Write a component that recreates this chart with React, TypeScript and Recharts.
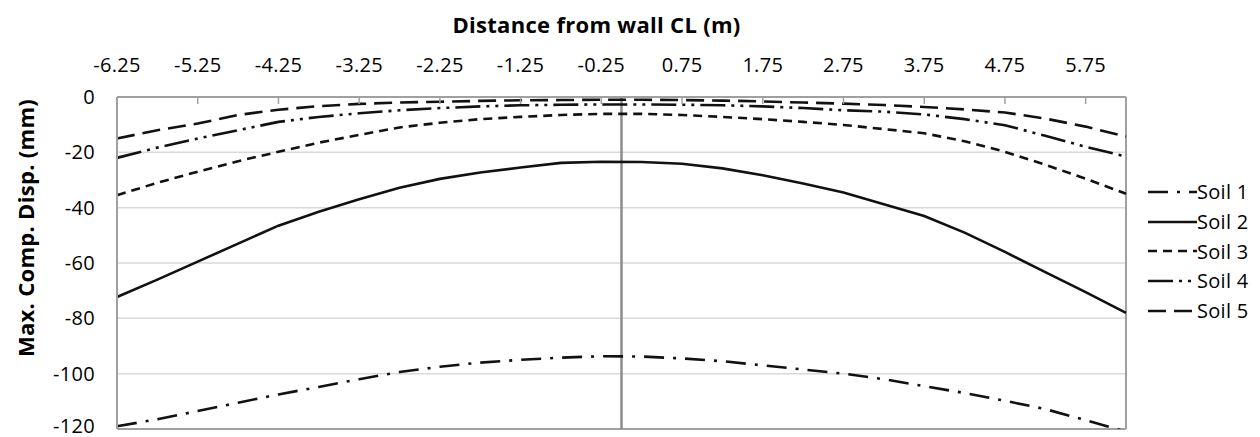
import React from 'react'
import { LineChart, Line, XAxis, YAxis, CartesianGrid, ReferenceLine } from 'recharts'

// distance from wall centre line (m)
const distances = [
  -6.25, -5.75, -5.25, -4.75, -4.25, -3.75, -3.25, -2.75, -2.25, -1.75, -1.25, -0.75, -0.25,
  0.25, 0.75, 1.25, 1.75, 2.25, 2.75, 3.25, 3.75, 4.25, 4.75, 5.25, 5.75, 6.25,
]

// max. comp. displacement (mm) per soil
const soil1 = [
  -119, -116.5, -113.5, -110.5, -107.5, -104.8, -102, -99.4, -97.5, -96, -95, -94.2, -93.7,
  -93.8, -94.5, -95.5, -97, -98.5, -100, -102, -104.5, -107, -109.8, -112.8, -116.8, -121,
]
const soil2 = [
  -72.3, -66, -59.5, -53, -46.5, -41.5, -37, -32.8, -29.6, -27.3, -25.5, -23.8, -23.4,
  -23.5, -24.1, -25.8, -28.3, -31.3, -34.5, -38.8, -43, -49, -56, -63.3, -70.5, -78,
]
const soil3 = [
  -35.5, -31, -27, -23.2, -19.8, -16.5, -13.7, -11, -9.3, -8, -7.2, -6.5, -6.1,
  -6.1, -6.5, -7.2, -8, -9, -10.1, -11.6, -13.1, -16, -19.8, -24.5, -29.5, -35,
]
const soil4 = [
  -22, -18.3, -15, -12, -9, -7.2, -5.9, -4.8, -4, -3.4, -3, -2.8, -2.7,
  -2.7, -2.8, -3, -3.4, -4, -4.8, -5.3, -6.3, -8, -10.2, -14, -18, -21.5,
]
const soil5 = [
  -15, -12, -9.6, -6.5, -4.6, -3.3, -2.5, -2, -1.7, -1.4, -1.2, -1.1, -1,
  -1, -1.1, -1.3, -1.6, -2, -2.4, -2.9, -3.6, -4.5, -5.6, -7.8, -10.7, -14.3,
]

const xTicks = [-6.25, -5.25, -4.25, -3.25, -2.25, -1.25, -0.25, 0.75, 1.75, 2.75, 3.75, 4.75, 5.75]
const yTicks = [0, -20, -40, -60, -80, -100, -120]

const seriesNames = ['Soil 1', 'Soil 2', 'Soil 3', 'Soil 4', 'Soil 5']
const seriesValues = [soil1, soil2, soil3, soil4, soil5]
const dashes = ['20 9 3 9', '0', '9 6', '25 6 3 6 3 6', '18 8']

const data = distances.map((x, i) => {
  const row: Record<string, number> = { x }
  seriesNames.forEach((n, j) => { row[n] = seriesValues[j][i] })
  return row
})

const FONT = '"Open Sans", sans-serif'
const FRAME = '#a0a0a0'
const tickStyle = { fontSize: 20, fill: '#000', fontFamily: FONT, letterSpacing: 0.3 }
const titleStyle = { fontSize: 22, fontWeight: 700, fill: '#000', fontFamily: FONT, letterSpacing: 0.3 }

export default function App() {
  return (
    <div style={{ position: 'absolute', left: 0, top: 0, width: 1260, height: 437, background: '#fff', fontFamily: FONT }}>
      <LineChart width={1260} height={437} data={data} margin={{ top: 57, right: 134, left: 10, bottom: 8 }}>
        <CartesianGrid vertical={false} stroke="#d9d9d9" strokeWidth={1.5} />
        <XAxis
          dataKey="x"
          type="number"
          orientation="top"
          domain={[-6.25, 6.25]}
          ticks={xTicks}
          height={40}
          tickFormatter={(v: number) => v.toFixed(2)}
          tick={tickStyle}
          tickSize={-7}
          tickMargin={32}
          tickLine={{ stroke: FRAME, strokeWidth: 1.5 }}
          axisLine={{ stroke: FRAME, strokeWidth: 2 }}
          label={{ value: 'Distance from wall CL (m)', position: 'top', offset: 24, dx: -25, style: titleStyle }}
        />
        <YAxis
          type="number"
          domain={[-120, 0]}
          allowDataOverflow
          ticks={yTicks}
          width={107}
          tickSize={0}
          tickMargin={22}
          tickLine={false}
          tick={tickStyle}
          axisLine={{ stroke: FRAME, strokeWidth: 2 }}
          label={{ value: 'Max. Comp. Disp. (mm)', angle: -90, position: 'insideLeft', offset: 16, dy: -35, style: { ...titleStyle, textAnchor: 'middle' } }}
        />
        <ReferenceLine y={-120} stroke={FRAME} strokeWidth={2} />
        <ReferenceLine x={6.25} stroke={FRAME} strokeWidth={2} />
        <ReferenceLine x={0} stroke="#8c8c8c" strokeWidth={2.5} />
        {seriesNames.map((n, j) => (
          <Line
            key={n}
            dataKey={n}
            stroke="#111"
            strokeWidth={2.6}
            strokeDasharray={dashes[j]}
            dot={false}
            type="linear"
            isAnimationActive={false}
          />
        ))}
      </LineChart>
      <div style={{ position: 'absolute', left: 1148, top: 177 }}>
        {seriesNames.map((n, j) => (
          <div key={n} style={{ display: 'flex', alignItems: 'center', height: 29.7, fontSize: 20, letterSpacing: 0.3, color: '#000' }}>
            <svg width={49} height={10} style={{ display: 'block' }}>
              <line x1={0} y1={5} x2={49} y2={5} stroke="#111" strokeWidth={2.6} strokeDasharray={dashes[j]} />
            </svg>
            <span>{n}</span>
          </div>
        ))}
      </div>
    </div>
  )
}
